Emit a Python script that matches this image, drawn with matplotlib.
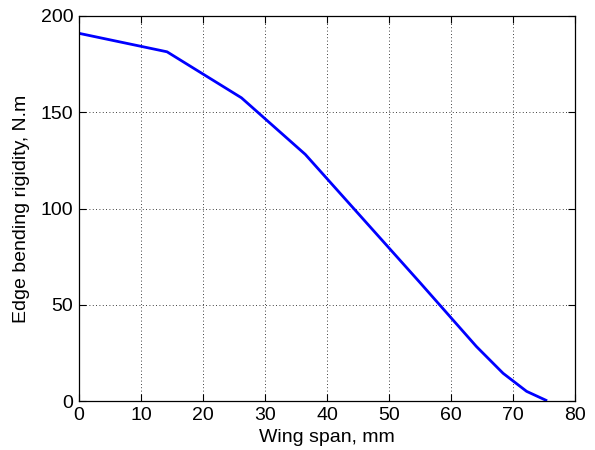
import matplotlib
matplotlib.use("Agg")
import matplotlib.pyplot as plt

span_mm = [0, 14.2, 26.2, 36.5, 45, 55, 64.1, 68.4, 72.2, 75.3]
rigidity = [191, 181.4, 157.5, 128.1, 97.5, 61.5, 28.3, 14.4, 5.0, 0.4]
xticks = [0, 10, 20, 30, 40, 50, 60, 70, 80]
yticks = [0, 50, 100, 150, 200]

plt.rcParams['font.family'] = ['Liberation Sans', 'DejaVu Sans']
fig = plt.figure(figsize=(5.95, 4.5), dpi=100)
ax = fig.add_axes([79/595, 49/450, 496/595, 385/450])
ax.plot(span_mm, rigidity, color='#0000ff', linewidth=2)
ax.set_xlim(0, 80)
ax.set_ylim(0, 200)
ax.set_xticks(xticks)
ax.set_yticks(yticks)
ax.grid(True, linestyle=(0, (1, 3)), color='black', linewidth=0.6)
ax.tick_params(direction='in', top=True, right=True, labelsize=14, length=5, width=0.8, pad=4)
for s in ax.spines.values():
    s.set_linewidth(0.9)
ax.set_xlabel('Wing span, mm', fontsize=14, labelpad=4)
ax.set_ylabel('Edge bending rigidity, N.m', fontsize=14, labelpad=8)
fig.savefig('out.png', dpi=100)
